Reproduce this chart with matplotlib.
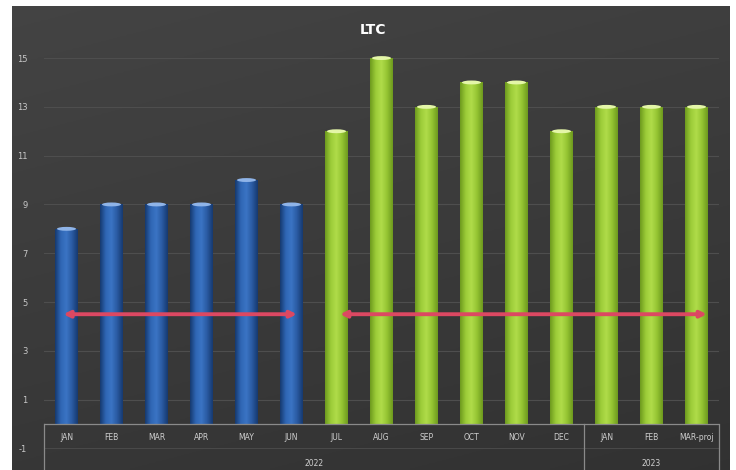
import matplotlib.pyplot as plt
import numpy as np
from matplotlib.patches import Ellipse, Rectangle
from matplotlib.colors import LinearSegmentedColormap

months = ["JAN", "FEB", "MAR", "APR", "MAY", "JUN", "JUL", "AUG", "SEP",
          "OCT", "NOV", "DEC", "JAN", "FEB", "MAR-proj"]
values = [8, 9, 9, 9, 10, 9, 12, 15, 13, 14, 14, 12, 13, 13, 13]
years = ["2022", "2023"]
year_sizes = [12, 3]
first_half = 6          # Jan-Jun drawn in blue, rest in green
avg_level = 4.5
yticks = [-1, 1, 3, 5, 7, 9, 11, 13, 15]

W, H = 736, 470
fig = plt.figure(figsize=(W / 100, H / 100), dpi=100, facecolor="white")

# dark chart background with a soft gradient
bg = fig.add_axes([12 / W, 0, (730 - 12) / W, (H - 6) / H])
bg.set_axis_off()
yy, xx = np.mgrid[0:1:200j, 0:1:200j]
shade = 0.265 - 0.05 * yy - 0.02 * xx
bg.imshow(np.dstack([shade, shade, shade]), aspect="auto", extent=(0, 1, 0, 1), origin="upper")
bg.set_xlim(0, 1)
bg.set_ylim(0, 1)

ax = fig.add_axes([44 / W, 0, (719 - 44) / W, (H - 40) / H])
ax.patch.set_alpha(0)
y_lo, y_hi = -1.885, 15.74
ax.set_xlim(-0.5, len(months) - 0.5)
ax.set_ylim(y_lo, y_hi)
for s in ax.spines.values():
    s.set_visible(False)
ax.set_xticks([])
ax.set_yticks(yticks)
ax.set_yticklabels([str(t) for t in yticks], fontsize=6, color="#c8c8c8")
ax.tick_params(axis="y", length=0, pad=12)
for t in yticks:
    if t > 0:
        ax.axhline(t, color="#4e4e4e", lw=0.8, zorder=0.5)

blue = LinearSegmentedColormap.from_list("b", ["#163a70", "#2f66b4", "#3b74c4", "#2a5aa2", "#163a70"])
green = LinearSegmentedColormap.from_list("g", ["#6e9a1e", "#9ccc38", "#b0dc4a", "#94c432", "#6e9a1e"])
grad = np.linspace(0, 1, 64).reshape(1, -1)
w = 0.5
for i, v in enumerate(values):
    cmap = blue if i < first_half else green
    cap = "#8fb4e8" if i < first_half else "#e4f6a8"
    im = ax.imshow(grad, cmap=cmap, aspect="auto", extent=(i - w / 2, i + w / 2, 0, v), zorder=2)
    rect = Rectangle((i - w / 2, 0), w, v, transform=ax.transData, fc="none", ec="none")
    ax.add_patch(rect)
    im.set_clip_path(rect)
    ax.add_patch(Ellipse((i, v), w * 0.85, 0.16, fc=cap, ec="none", zorder=3))

ax.set_xlim(-0.5, len(months) - 0.5)
ax.set_ylim(y_lo, y_hi)

# average arrows
arrow_kw = dict(arrowstyle="<|-|>", color="#dc4862", lw=2.8, mutation_scale=9,
                shrinkA=0, shrinkB=0)
ax.annotate("", xy=(first_half - 0.88, avg_level), xytext=(-0.07, avg_level),
            arrowprops=arrow_kw, zorder=4)
ax.annotate("", xy=(len(months) - 1 + 0.23, avg_level), xytext=(first_half + 0.08, avg_level),
            arrowprops=arrow_kw, zorder=4)

# category table under the zero line
line_c = "#8a8a8a"
ax.axhline(0, color=line_c, lw=0.9, zorder=3)
ax.plot([-0.5, len(months) - 0.5], [-1.0, -1.0], color="#4a4a4a", lw=0.7)
for i, m in enumerate(months):
    ax.text(i, -0.55, m, ha="center", va="center", fontsize=5.5, color="#cfcfcf")
start = -0.5
edges = [start]
for name, n in zip(years, year_sizes):
    ax.text(start + n / 2, -1.6, name, ha="center", va="center", fontsize=5.5, color="#cfcfcf")
    start += n
    edges.append(start)
for e in edges:
    ax.plot([e, e], [0, y_lo], color=line_c, lw=0.9, clip_on=False)

fig.text(373 / W, 1 - 30 / H, "LTC", ha="center", va="center", fontsize=10,
         fontweight="bold", color="white")

fig.savefig("out.png", dpi=100, facecolor="white")
